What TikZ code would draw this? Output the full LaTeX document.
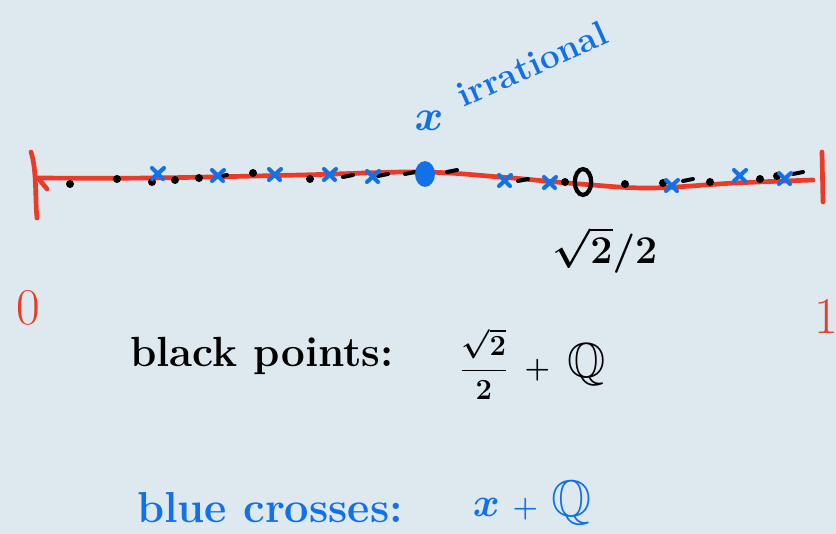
\documentclass[tikz,border=0pt]{standalone}
\usepackage{amsmath,amssymb}
\usepackage{graphicx}
\usepackage{tikz}
\usetikzlibrary{positioning}

\definecolor{paper}{RGB}{221,232,239}
\definecolor{penred}{RGB}{236,58,38}
\definecolor{penblue}{RGB}{18,112,232}

\tikzset{
    redpen/.style={penred,line width=4pt,line cap=round,line join=round},
    crossmark/.style={penblue,line width=3.5pt,line cap=round},
    dashmark/.style={black,line width=3.4pt,line cap=round},
    hand/.style={inner sep=0pt,font=\bfseries\boldmath\fontsize{36}{42}\selectfont}
}

\begin{document}
\begin{tikzpicture}[x=0.03cm,y=-0.03cm]
    \fill[paper] (0,0) rectangle (836,534);
    \useasboundingbox (0,0) rectangle (836,534);

    % the interval
    \draw[redpen] plot[smooth,tension=0.6] coordinates {(38,178) (150,178) (300,175) (420,172) (500,177) (580,184) (650,188) (735,183) (813,180)};
    \draw[redpen] (38,178) -- (47,189);
    \draw[redpen] (31,152) .. controls (37,170) and (35,200) .. (37,218);
    \draw[redpen] (822,152) -- (823,202);

    % black points
    \foreach \x/\y in {70/184, 117/179, 152/182, 175/180, 199/178, 253/173, 310/179, 565/182, 625/184, 663/183, 710/182, 760/179, 777/176} {
        \fill (\x,\y) circle (3.4pt);
    }
    \foreach \x/\y in {222/176, 348/176, 383/175, 410/173, 452/171, 523/180, 688/180, 798/173} {
        \draw[dashmark] (\x-5,\y+1) -- (\x+5,\y-1);
    }

    % blue crosses
    \foreach \x/\y in {158/173, 218/175, 275/174, 330/174, 373/176, 505/180, 550/182, 672/185, 740/175, 785/178} {
        \draw[crossmark] (\x-6,\y-5) -- (\x+5,\y+6) (\x-6,\y+6) -- (\x+6,\y-5);
    }

    % x and sqrt2/2 on the line
    \fill[penblue] (425,174) ellipse [x radius=8.5pt, y radius=11pt];
    \draw[black,line width=3.6pt] (583,182) ellipse [x radius=7pt, y radius=11pt];

    % labels
    \node[hand,penblue] (xmark) at (429,121) {\scalebox{1.5}{$x$}};
    \node[hand,penblue,rotate=24,font=\bfseries\fontsize{30}{36}\selectfont] (irr) at (532,64) {irrational};
    \node[hand,font=\bfseries\boldmath\Huge] (root) at (605,250) {\scalebox{1.35}{$\sqrt{2}/2$}};
    \node[hand,penred,font=\fontsize{44}{50}\selectfont] (zero) at (28,308) {0};
    \node[hand,penred,font=\fontsize{44}{50}\selectfont] (one) at (826,316) {1};

    \node[hand] (blacklbl) at (262,356) {black points:};
    \node[hand,font=\bfseries\boldmath\fontsize{42}{48}\selectfont] (blackset) at (533,364)
        {{\fontsize{30}{36}\selectfont$\dfrac{\sqrt{2}}{2}$}\hspace{0.35em}$+$\hspace{0.35em}$\mathbb{Q}$};
    \node[hand,penblue,font=\bfseries\fontsize{37}{43}\selectfont] (bluelbl) at (270,508) {blue crosses:};
    \node[hand,penblue,font=\bfseries\boldmath\fontsize{44}{50}\selectfont] (blueset) at (532,503)
        {\scalebox{1.4}{$x$}\hspace{0.25em}$+$\hspace{0.25em}$\mathbb{Q}$};
\end{tikzpicture}
\end{document}
